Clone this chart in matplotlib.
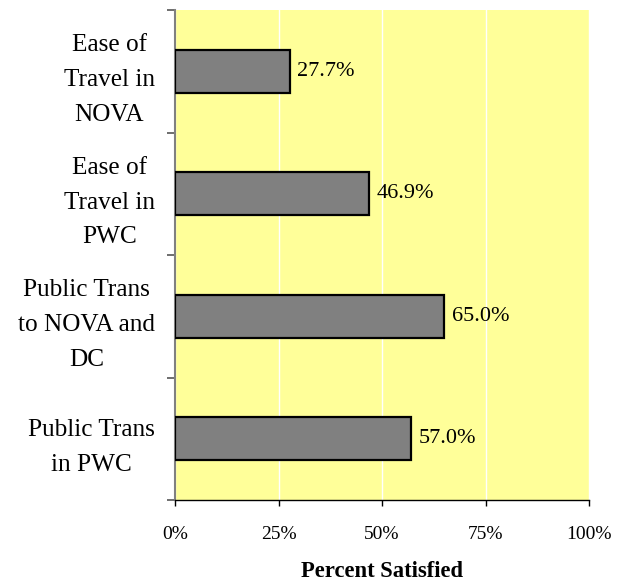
import matplotlib
matplotlib.use("Agg")
import matplotlib.pyplot as plt
from matplotlib.ticker import FixedLocator, PercentFormatter

categories = [
    "Ease of\nTravel in\nNOVA",
    "Ease of\nTravel in\nPWC",
    "Public Trans\nto NOVA and\nDC",
    "Public Trans\nin PWC",
]
values = [27.7, 46.9, 65.0, 57.0]
x_ticks = [0, 25, 50, 75, 100]

plt.rcParams["font.family"] = ["Liberation Serif", "DejaVu Serif"]

W, H = 618, 582
fig = plt.figure(figsize=(W / 100, H / 100), dpi=100)
ax = fig.add_axes([175 / W, 1 - 500 / H, (589 - 175) / W, (500 - 10) / H])
ax.set_facecolor("#FFFF99")

n = len(categories)
ypos = list(range(n))
ax.barh(ypos, values, height=0.35, color="#808080",
        edgecolor="black", linewidth=1.6, zorder=3)

for y, v in zip(ypos, values):
    ax.text(v + 1.8, y, f"{v:.1f}%", va="center", ha="left",
            fontsize=16, zorder=4)

ax.set_xlim(0, 100)
ax.set_ylim(n - 0.5, -0.5)

ax.xaxis.set_major_locator(FixedLocator(x_ticks))
ax.xaxis.set_major_formatter(PercentFormatter(decimals=0))
ax.grid(axis="x", color="white", linewidth=1.0, zorder=1)
ax.set_axisbelow(True)

ax.set_yticks(ypos)
ax.set_yticklabels(categories, fontsize=18.2, ha="right",
                   multialignment="center", linespacing=1.75)
ax.yaxis.set_minor_locator(FixedLocator([i - 0.5 for i in range(n + 1)]))
ax.tick_params(axis="y", which="major", length=0, pad=14.5)
ax.tick_params(axis="y", which="minor", length=5.8, width=1.2, color="#555555")
ax.tick_params(axis="x", which="major", length=4.5, width=1.0, color="black",
               labelsize=14, pad=14)

for side in ("top", "right"):
    ax.spines[side].set_visible(False)
ax.spines["left"].set_color("#808080")
ax.spines["left"].set_linewidth(1.5)
ax.spines["bottom"].set_color("black")
ax.spines["bottom"].set_linewidth(1.0)

# axis title placed by its baseline in figure pixels
fig.text(382 / W, 1 - 577 / H, "Percent Satisfied", ha="center",
         va="baseline", fontsize=16.3, fontweight="bold")

fig.savefig("out.png", dpi=100)
